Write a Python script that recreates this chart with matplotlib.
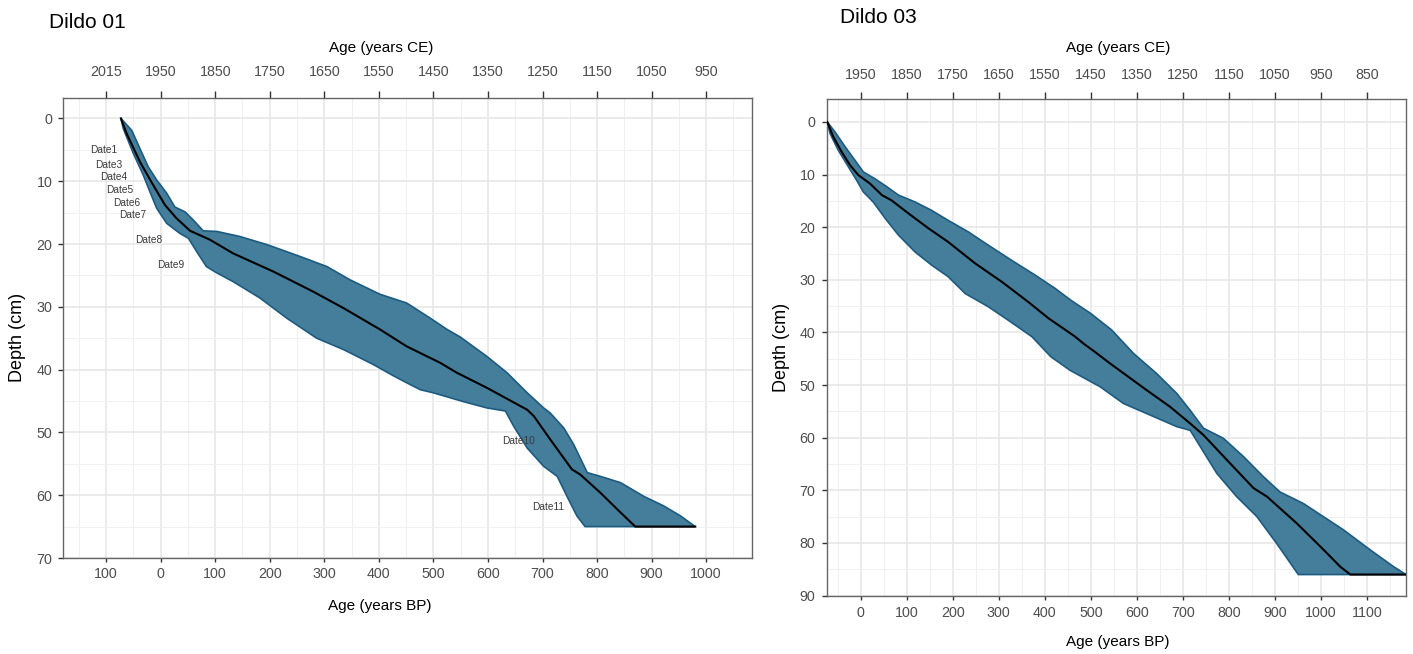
import matplotlib.pyplot as plt
from matplotlib.ticker import MultipleLocator

plt.rcParams['font.family'] = ['Liberation Sans', 'DejaVu Sans']

# ---- Dildo 01 age-depth model (age in years BP, depth in cm) ----
d01_med_age = [-72.8, -62.4, -38, -16.5, 8, 29, 54, 90, 133, 207, 280, 335, 402,
               451, 512, 543, 598, 672, 684, 714, 754, 769, 806, 840, 870, 980]
d01_med_depth = [0, 2.4, 6.9, 10.2, 13.8, 15.9, 17.9, 19.3, 21.5, 24.4, 27.6, 30.2, 33.6,
                 36.3, 38.9, 40.5, 42.9, 46.4, 47.4, 51.1, 55.9, 56.7, 59.6, 62.5, 65, 65]
d01_old_age = [-72.8, -53, -38, -22.8, -7.3, 11, 26, 45, 60, 78, 103, 145, 195, 256, 305,
               347, 402, 451, 494, 525, 549, 598, 635, 672, 702, 714, 739, 757, 782,
               806, 843, 886, 922, 953, 980]
d01_old_depth = [0, 1.9, 4.8, 7.7, 9.8, 11.9, 14.1, 14.9, 16.2, 17.9, 18.0, 18.8, 20.1, 22.0,
                 23.6, 25.7, 28.0, 29.4, 31.8, 33.6, 34.8, 37.9, 40.5, 43.7, 46.1, 46.9,
                 49.3, 51.9, 56.4, 57.0, 58.0, 60.2, 61.7, 63.3, 65]
d01_young_age = [-72.8, -68.6, -50, -32, -19.6, -7.3, 11, 35, 51, 66, 84, 103, 133, 182,
                 231, 286, 335, 390, 427, 451, 476, 500, 555, 598, 632, 647, 672, 702,
                 727, 745, 763, 778]
d01_young_depth = [0, 1.6, 5.6, 9.0, 11.7, 14.3, 16.7, 18.3, 19.1, 21.2, 23.6, 24.6, 26.0,
                   28.6, 31.8, 35.0, 36.8, 39.2, 41.0, 42.1, 43.2, 43.7, 45.1, 46.1, 46.6,
                   49.0, 52.5, 55.4, 57.0, 60.2, 63.3, 65]
d01_dates = ['Date1', 'Date3', 'Date4', 'Date5', 'Date6', 'Date7', 'Date8', 'Date9',
             'Date10', 'Date11']
d01_date_age = [-104, -96, -86, -75, -62, -51, -21, 18, 656, 711]
d01_date_depth = [5.1, 7.4, 9.4, 11.4, 13.4, 15.4, 19.3, 23.4, 51.4, 61.8]
d01_bp_ticks = [-100, 0, 100, 200, 300, 400, 500, 600, 700, 800, 900, 1000]
d01_bp_labels = ['100', '0', '100', '200', '300', '400', '500', '600', '700', '800',
                 '900', '1000']
d01_ce_labels = ['2015', '1950', '1850', '1750', '1650', '1550', '1450', '1350', '1250',
                 '1150', '1050', '950']

# ---- Dildo 03 age-depth model ----
d03_med_age = [-72.6, -59.5, -41.3, -23.3, -5.2, 20, 46, 67, 104, 147, 190, 249, 307, 364,
               408, 466, 484, 509, 542, 622, 672, 716, 745, 803, 854, 883, 948, 1006,
               1042, 1064, 1185]
d03_med_depth = [0, 2.85, 5.7, 8.2, 10.1, 11.7, 13.9, 14.9, 17.4, 20.2, 22.8, 26.9, 30.4,
                 34.2, 37.3, 40.8, 42.1, 43.7, 45.9, 51.0, 54.1, 57.3, 59.5, 64.9, 69.6,
                 71.2, 76.3, 81.3, 84.5, 86, 86]
d03_old_age = [-72.6, -55.9, -34, -12.4, 5.7, 31, 56.5, 82, 118, 154, 190, 234, 277, 328,
               379, 422, 457, 500, 545, 593, 643, 687, 716, 745, 788, 832, 875, 911, 962,
               1049, 1107, 1158, 1185]
d03_old_depth = [0, 1.9, 4.7, 7.3, 9.5, 10.8, 12.3, 13.9, 15.2, 16.8, 18.7, 20.9, 23.4,
                 26.3, 29.1, 31.6, 33.9, 36.4, 39.5, 44.0, 47.8, 51.6, 54.8, 58.2, 60.1,
                 63.6, 67.4, 70.3, 72.5, 77.5, 81.3, 84.5, 86]
d03_young_age = [-72.6, -66.7, -48.7, -27, -8.7, 5.7, 27, 53, 82, 118, 154, 190, 227, 277,
                 321, 372, 413, 455, 520, 571, 629, 687, 716, 738, 774, 817, 861, 904, 951]
d03_young_depth = [0, 2.2, 5.4, 8.5, 11.1, 13.3, 15.2, 18.3, 21.5, 24.7, 27.2, 29.4, 32.6,
                   35.1, 37.7, 40.8, 44.6, 47.2, 50.3, 53.5, 55.7, 57.9, 58.6, 61.7, 66.8,
                   71.2, 75.0, 80.1, 86]
d03_bp_ticks = [0, 100, 200, 300, 400, 500, 600, 700, 800, 900, 1000, 1100]
d03_bp_labels = [str(t) for t in d03_bp_ticks]
d03_ce_labels = ['1950', '1850', '1750', '1650', '1550', '1450', '1350', '1250', '1150',
                 '1050', '950', '850']

W, H = 1413, 654
BAND_FILL = '#457e9b'
BAND_EDGE = '#1c5b80'
TICK_GREY = '#4d4d4d'


def px(x, y):
    """Pixel position -> figure fraction."""
    return x / W, 1 - y / H


def draw_model(ax, med_a, med_d, old_a, old_d, young_a, young_d):
    # uncertainty envelope: older bound downwards, younger bound back up
    poly_a = list(old_a) + list(young_a)[::-1]
    poly_d = list(old_d) + list(young_d)[::-1]
    ax.fill(poly_a, poly_d, facecolor=BAND_FILL, edgecolor=BAND_EDGE, lw=1.2, zorder=2)
    ax.plot(med_a, med_d, color='black', lw=1.5, zorder=3)


def style_axes(ax, xlim, ylim, ymax_tick, bp_ticks, bp_labels, ce_labels,
               top_pad, bottom_pad, left_pad):
    ax.set_xlim(*xlim)
    ax.set_ylim(*ylim)
    ax.set_xticks(bp_ticks, bp_labels)
    ax.set_yticks(range(0, ymax_tick + 1, 10))
    ax.xaxis.set_minor_locator(MultipleLocator(50))
    ax.yaxis.set_minor_locator(MultipleLocator(5))
    ax.grid(which='major', color='#e6e6e6', lw=1.1, zorder=0)
    ax.grid(which='minor', color='#f0f0f0', lw=0.7, zorder=0)
    ax.set_axisbelow(True)
    for s in ax.spines.values():
        s.set_color('#666666')
        s.set_linewidth(1.0)
    ax.tick_params(which='minor', length=0)
    ax.tick_params(axis='x', which='major', length=3.2, width=1, color='#333333',
                   labelsize=10.3, labelcolor=TICK_GREY, pad=bottom_pad)
    ax.tick_params(axis='y', which='major', length=3.6, width=1, color='#333333',
                   labelsize=10.3, labelcolor=TICK_GREY, pad=left_pad)
    top = ax.secondary_xaxis('top', functions=(lambda v: v, lambda v: v))
    top.set_xticks(bp_ticks, ce_labels)
    top.tick_params(length=5.4, width=1, color='#333333', labelsize=10.3,
                    labelcolor=TICK_GREY, pad=top_pad)
    top.spines['top'].set_visible(False)


fig = plt.figure(figsize=(W / 100, H / 100), dpi=100)

# Dildo 01
ax1 = fig.add_axes([63 / W, 1 - 558 / H, 689 / W, 460 / H])
draw_model(ax1, d01_med_age, d01_med_depth, d01_old_age, d01_old_depth,
           d01_young_age, d01_young_depth)
for name, a, d in zip(d01_dates, d01_date_age, d01_date_depth):
    ax1.text(a, d, name, fontsize=7.3, color='#3a3a3a', ha='center', va='center', zorder=4)
style_axes(ax1, (-179, 1084), (70, -3.25), 70, d01_bp_ticks, d01_bp_labels, d01_ce_labels,
           top_pad=8.0, bottom_pad=3.0, left_pad=4.0)

# Dildo 03
ax2 = fig.add_axes([827.3 / W, 1 - 595.6 / H, 578.7 / W, 496.3 / H])
draw_model(ax2, d03_med_age, d03_med_depth, d03_old_age, d03_old_depth,
           d03_young_age, d03_young_depth)
style_axes(ax2, (-72.6, 1185), (90, -4.3), 90, d03_bp_ticks, d03_bp_labels, d03_ce_labels,
           top_pad=7.0, bottom_pad=4.0, left_pad=5.0)

# panel titles and axis titles
fig.text(*px(49, 27.7), 'Dildo 01', fontsize=15, ha='left', va='baseline')
fig.text(*px(840, 22.7), 'Dildo 03', fontsize=15, ha='left', va='baseline')
fig.text(*px(381, 48), 'Age (years CE)', fontsize=11, ha='center', va='center')
fig.text(*px(380, 606), 'Age (years BP)', fontsize=11, ha='center', va='center')
fig.text(*px(1118, 48), 'Age (years CE)', fontsize=11, ha='center', va='center')
fig.text(*px(1118, 642), 'Age (years BP)', fontsize=11, ha='center', va='center')
fig.text(*px(18, 337), 'Depth (cm)', fontsize=13, rotation=90, ha='center', va='center')
fig.text(*px(782, 347), 'Depth (cm)', fontsize=13, rotation=90, ha='center', va='center')

fig.savefig('out.png', dpi=100)
